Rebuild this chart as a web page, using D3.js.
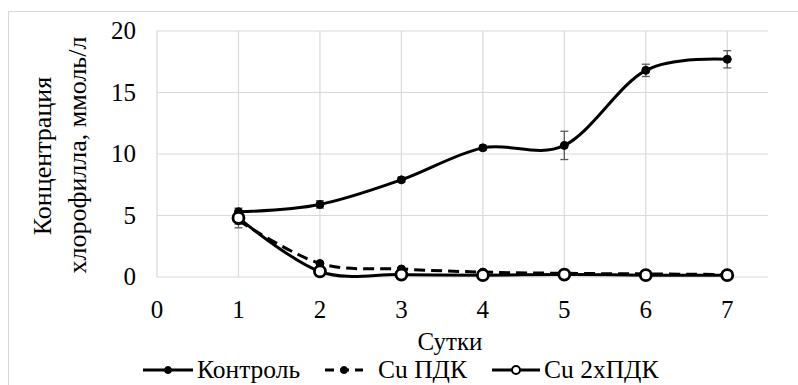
<!DOCTYPE html>
<html>
<head>
<meta charset="utf-8">
<script src="https://cdn.jsdelivr.net/npm/d3@7"></script>
<style>
  body { margin: 0; background: #fff; }
</style>
</head>
<body>
<script>
const days = [1, 2, 3, 4, 5, 6, 7];
const control = [5.3, 5.9, 7.9, 10.5, 10.7, 16.8, 17.7];
const controlErr = [0.3, 0.3, 0.2, 0.2, 1.15, 0.5, 0.7];
const cuPdk = [4.6, 1.1, 0.65, 0.4, 0.3, 0.25, 0.2];
const cuPdkErr = [0.6, 0.1, 0.05, 0.05, 0.05, 0.05, 0.05];
const cu2Pdk = [4.8, 0.45, 0.2, 0.15, 0.2, 0.15, 0.15];
const cu2PdkErr = [0.5, 0.05, 0.05, 0.05, 0.05, 0.05, 0.05];
const xTicks = [0, 1, 2, 3, 4, 5, 6, 7];
const yTicks = [0, 5, 10, 15, 20];

const W = 798, H = 385;
const FONT = '"Liberation Serif"';
const svg = d3.select('body').append('svg')
  .attr('width', W)
  .attr('height', H);

// chart frame (right and bottom edges fall outside the picture)
svg.append('rect')
  .attr('x', 8.5).attr('y', 11.5)
  .attr('width', 800).attr('height', 390)
  .attr('fill', 'none')
  .attr('stroke', '#d9d9d9');

const x = d3.scaleLinear().domain([0, 7.5]).range([157, 768]);
const y = d3.scaleLinear().domain([0, 20]).range([277, 31]);

// gridlines
svg.append('g')
  .selectAll('line')
  .data(yTicks)
  .enter()
  .append('line')
  .attr('x1', x(0)).attr('x2', x(7.5))
  .attr('y1', d => y(d)).attr('y2', d => y(d))
  .attr('stroke', '#d9d9d9').attr('stroke-width', 1.2);

svg.append('g')
  .selectAll('line')
  .data(xTicks)
  .enter()
  .append('line')
  .attr('x1', d => x(d)).attr('x2', d => x(d))
  .attr('y1', y(0)).attr('y2', y(20))
  .attr('stroke', '#d9d9d9').attr('stroke-width', 1.2);

// tick labels
svg.append('g')
  .selectAll('text')
  .data(yTicks)
  .enter()
  .append('text')
  .attr('x', 136)
  .attr('y', d => y(d) + 8)
  .attr('text-anchor', 'end')
  .attr('font-size', 25)
  .style('font-family', FONT)
  .text(d => d);

svg.append('g')
  .selectAll('text')
  .data(xTicks)
  .enter()
  .append('text')
  .attr('x', d => x(d))
  .attr('y', 318)
  .attr('text-anchor', 'middle')
  .attr('font-size', 25)
  .style('font-family', FONT)
  .text(d => d);

// axis titles
svg.append('text')
  .attr('transform', 'translate(51,156) rotate(-90)')
  .attr('text-anchor', 'middle')
  .attr('font-size', 26)
  .style('font-family', FONT)
  .text('Концентрация');

svg.append('text')
  .attr('transform', 'translate(86,155) rotate(-90)')
  .attr('text-anchor', 'middle')
  .attr('font-size', 26)
  .style('font-family', FONT)
  .text('хлорофилла,  ммоль/л');

svg.append('text')
  .attr('x', 450).attr('y', 350)
  .attr('text-anchor', 'middle')
  .attr('font-size', 25)
  .style('font-family', FONT)
  .text('Сутки');

const series = [
  { name: 'Контроль', values: control, err: controlErr, dash: null, open: false, r: 4 },
  { name: 'Cu ПДК', values: cuPdk, err: cuPdkErr, dash: '11,6', open: false, r: 4 },
  { name: 'Cu 2xПДК', values: cu2Pdk, err: cu2PdkErr, dash: null, open: true, r: 5.5 }
];

const line = d3.line()
  .x(d => x(d[0]))
  .y(d => y(d[1]))
  .curve(d3.curveCatmullRom.alpha(0));

// error bars
series.forEach(s => {
  const g = svg.append('g').attr('stroke', '#595959').attr('stroke-width', 1.3);
  days.forEach((d, i) => {
    const cx = x(d), lo = y(s.values[i] - s.err[i]), hi = y(s.values[i] + s.err[i]);
    g.append('line').attr('x1', cx).attr('x2', cx).attr('y1', lo).attr('y2', hi);
    g.append('line').attr('x1', cx - 4).attr('x2', cx + 4).attr('y1', lo).attr('y2', lo);
    g.append('line').attr('x1', cx - 4).attr('x2', cx + 4).attr('y1', hi).attr('y2', hi);
  });
});

// lines and markers
series.forEach(s => {
  svg.append('path')
    .datum(days.map((d, i) => [d, s.values[i]]))
    .attr('d', line)
    .attr('fill', 'none')
    .attr('stroke', '#000')
    .attr('stroke-width', 3)
    .attr('stroke-dasharray', s.dash);

  svg.append('g')
    .selectAll('circle')
    .data(days)
    .enter()
    .append('circle')
    .attr('cx', d => x(d))
    .attr('cy', (d, i) => y(s.values[i]))
    .attr('r', s.r)
    .attr('fill', s.open ? '#fff' : '#000')
    .attr('stroke', '#000')
    .attr('stroke-width', s.open ? 2.8 : 1);
});

// legend
const legendX = [143, 325, 492];
const legendW = [50, 38, 48];
series.forEach((s, i) => {
  const g = svg.append('g');
  const ly = 370;
  g.append('line')
    .attr('x1', legendX[i]).attr('x2', legendX[i] + legendW[i])
    .attr('y1', ly).attr('y2', ly)
    .attr('stroke', '#000').attr('stroke-width', 3)
    .attr('stroke-dasharray', s.dash ? '9,6' : null);
  g.append('circle')
    .attr('cx', legendX[i] + legendW[i] / 2)
    .attr('cy', ly)
    .attr('r', s.open ? 4 : 3.5)
    .attr('fill', s.open ? '#fff' : '#000')
    .attr('stroke', '#000')
    .attr('stroke-width', s.open ? 2 : 1);
  g.append('text')
    .attr('x', legendX[i] + legendW[i] + (i === 1 ? 15 : 4))
    .attr('y', 378)
    .attr('font-size', 25.5)
    .style('font-family', FONT)
    .text(s.name);
});
</script>
</body>
</html>
